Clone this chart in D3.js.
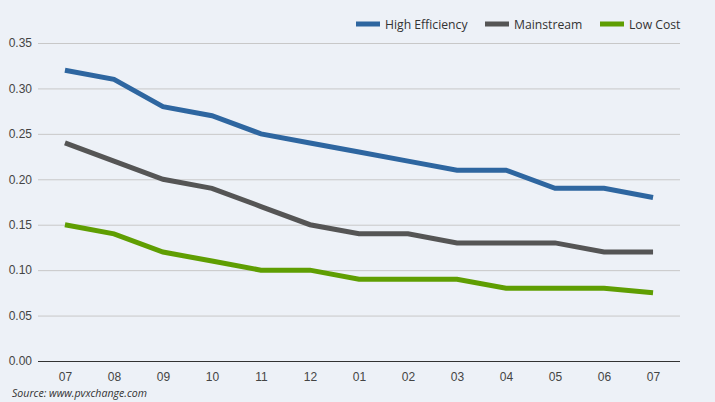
<!DOCTYPE html>
<html>
<head>
<meta charset="utf-8">
<script src="https://cdn.jsdelivr.net/npm/d3@7"></script>
<style>
  body { margin: 0; background: #edf1f7; }
  svg { display: block; font-family: "Open Sans", sans-serif; }
  .tick text { fill: #444; font-size: 12px; }
  .legend text { fill: #333; font-size: 12.2px; }
</style>
</head>
<body>
<svg width="715" height="402"></svg>
<script>
const months = ['07', '08', '09', '10', '11', '12', '01', '02', '03', '04', '05', '06', '07'];
const highEfficiency = [0.32, 0.31, 0.28, 0.27, 0.25, 0.24, 0.23, 0.22, 0.21, 0.21, 0.19, 0.19, 0.18];
const mainstream = [0.24, 0.22, 0.20, 0.19, 0.17, 0.15, 0.14, 0.14, 0.13, 0.13, 0.13, 0.12, 0.12];
const lowCost = [0.15, 0.14, 0.12, 0.11, 0.10, 0.10, 0.09, 0.09, 0.09, 0.08, 0.08, 0.08, 0.075];
const yTicks = [0, 0.05, 0.10, 0.15, 0.20, 0.25, 0.30, 0.35];

const series = [
  { name: 'High Efficiency', values: highEfficiency, color: '#2e66a0' },
  { name: 'Mainstream', values: mainstream, color: '#555555' },
  { name: 'Low Cost', values: lowCost, color: '#5f9e02' }
];

const svg = d3.select('svg');
const plotLeft = 38, plotRight = 680, plotTop = 43, plotBottom = 361;

const x = d3.scalePoint()
  .domain(d3.range(months.length))
  .range([plotLeft, plotRight])
  .padding(0.55);

const y = d3.scaleLinear()
  .domain([0, 0.35])
  .range([plotBottom, plotTop]);

// gridlines + y labels
const yAxis = svg.append('g')
  .attr('transform', `translate(${plotLeft},0)`)
  .call(d3.axisLeft(y).tickValues(yTicks).tickFormat(d3.format('.2f')).tickSize(-(plotRight - plotLeft)).tickPadding(6));
yAxis.select('.domain').remove();
yAxis.selectAll('.tick line').attr('stroke', '#c8c8c8');
yAxis.selectAll('.tick').filter(d => d === 0).select('line').attr('stroke', '#333');

// x labels
const xAxis = svg.append('g')
  .attr('transform', `translate(0,${plotBottom})`)
  .call(d3.axisBottom(x).tickFormat(i => months[i]).tickSize(0).tickPadding(11));
xAxis.select('.domain').remove();

// lines
const line = d3.line()
  .x((d, i) => x(i))
  .y(d => y(d));

svg.selectAll('path.series')
  .data(series)
  .enter()
  .append('path')
  .attr('class', 'series')
  .attr('fill', 'none')
  .attr('stroke', d => d.color)
  .attr('stroke-width', 5)
  .attr('stroke-linejoin', 'miter')
  .attr('d', d => line(d.values));

// legend
const legendX = [356, 485, 600];
const legend = svg.selectAll('g.legend')
  .data(series)
  .enter()
  .append('g')
  .attr('class', 'legend')
  .attr('transform', (d, i) => `translate(${legendX[i]},24)`);
legend.append('rect')
  .attr('x', 0).attr('y', -2.5)
  .attr('width', 24).attr('height', 5)
  .attr('fill', d => d.color);
legend.append('text')
  .attr('x', 29).attr('y', 4.5)
  .text(d => d.name);

// source
svg.append('text')
  .attr('x', 12).attr('y', 397)
  .attr('font-size', 10.6)
  .attr('font-style', 'italic')
  .attr('fill', '#333')
  .text('Source: www.pvxchange.com');
</script>
</body>
</html>
